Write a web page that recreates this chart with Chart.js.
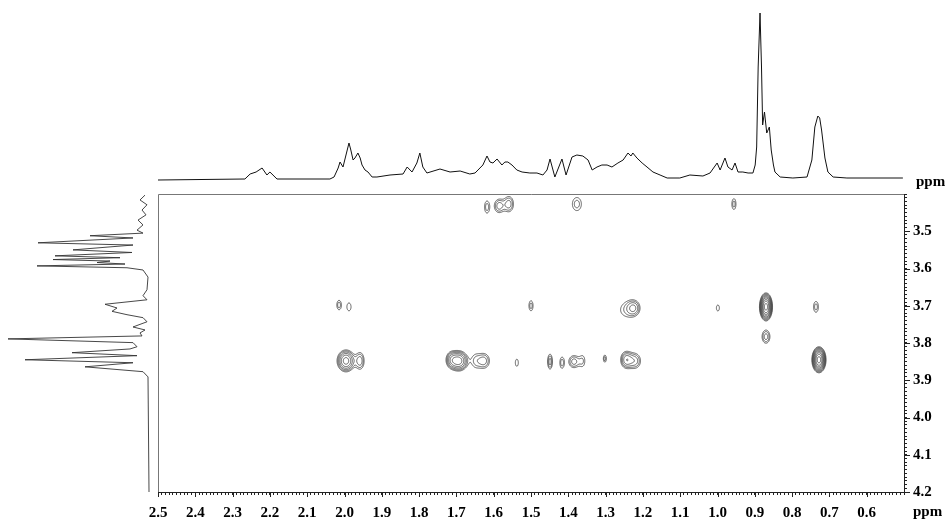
<!DOCTYPE html>
<html>
<head>
<meta charset="utf-8">
<script src="https://cdn.jsdelivr.net/npm/chart.js@4.4.0/dist/chart.umd.min.js"></script>
<style>
  html, body { margin: 0; padding: 0; background: #fff; }
  #wrap { position: relative; width: 946px; height: 521px; overflow: hidden; }
  #wrap canvas { position: absolute; }
</style>
</head>
<body>
<div id="wrap">
  <canvas id="topSpec" width="746" height="200" style="left:158px;top:0"></canvas>
  <canvas id="leftSpec" width="158" height="298" style="left:0;top:194px"></canvas>
  <canvas id="main" width="946" height="521" style="left:0;top:0"></canvas>
</div>
<script>
// axis ranges (ppm) and labelled ticks
const xRange = [0.5, 2.5];
const yRange = [3.4, 4.2];
const xMajorTicks = [2.5, 2.4, 2.3, 2.2, 2.1, 2.0, 1.9, 1.8, 1.7, 1.6, 1.5, 1.4, 1.3, 1.2, 1.1, 1.0, 0.9, 0.8, 0.7, 0.6];
const yMajorTicks = [3.5, 3.6, 3.7, 3.8, 3.9, 4.0, 4.1, 4.2];
const minorStep = 0.01;

// top 1D trace (F2)
const topPpm = [2.500, 2.267, 2.253, 2.237, 2.221, 2.208, 2.200, 2.181, 2.039, 2.028, 2.017, 2.012, 2.004, 1.996, 1.988,
  1.983, 1.977, 1.972, 1.964, 1.958, 1.953, 1.945, 1.937, 1.926, 1.913, 1.878, 1.843, 1.832, 1.819, 1.806, 1.798, 1.790,
  1.779, 1.744, 1.717, 1.690, 1.664, 1.650, 1.629, 1.618, 1.610, 1.602, 1.591, 1.578, 1.570, 1.562, 1.551, 1.538, 1.524,
  1.503, 1.484, 1.468, 1.457, 1.449, 1.436, 1.417, 1.406, 1.390, 1.377, 1.361, 1.347, 1.336, 1.323, 1.310, 1.296, 1.283,
  1.267, 1.253, 1.240, 1.232, 1.227, 1.216, 1.202, 1.189, 1.173, 1.154, 1.135, 1.101, 1.074, 1.039, 1.020, 1.001, 0.993,
  0.980, 0.972, 0.961, 0.953, 0.945, 0.932, 0.918, 0.905, 0.899, 0.895, 0.891, 0.886, 0.882, 0.879, 0.874, 0.868, 0.861,
  0.856, 0.850, 0.846, 0.832, 0.798, 0.760, 0.747, 0.739, 0.731, 0.726, 0.721, 0.712, 0.704, 0.690, 0.653, 0.503];
const topInt = [0, 1, 6, 8, 12, 5, 8, 1, 1, 3, 12, 18, 13, 25, 37,
  30, 20, 22, 27, 22, 15, 10, 8, 3, 3, 5, 6, 13, 8, 17, 27, 13,
  7, 11, 8, 9, 6, 7, 15, 24, 18, 17, 21, 15, 18, 18, 15, 10, 8,
  7, 7, 5, 10, 21, 3, 21, 5, 23, 25, 24, 20, 10, 13, 15, 15, 13,
  17, 20, 27, 24, 27, 22, 17, 13, 8, 5, 2, 2, 5, 4, 7, 17, 10,
  22, 13, 10, 17, 8, 8, 7, 7, 15, 33, 113, 167, 113, 55, 68, 47, 53,
  30, 15, 8, 3, 2, 3, 20, 53, 64, 62, 50, 22, 8, 3, 2, 2];

// left 1D trace (F1)
const leftPpm = [3.403, 3.416, 3.429, 3.443, 3.456, 3.470, 3.483, 3.497, 3.505, 3.512, 3.518, 3.531, 3.537, 3.550, 3.557,
  3.566, 3.571, 3.576, 3.580, 3.584, 3.588, 3.593, 3.598, 3.604, 3.623, 3.657, 3.673, 3.684, 3.696, 3.706, 3.715, 3.724,
  3.732, 3.743, 3.757, 3.765, 3.773, 3.781, 3.789, 3.799, 3.810, 3.816, 3.826, 3.834, 3.845, 3.853, 3.864, 3.877, 3.891, 4.200];
const leftInt = [3, 8, 1, 6, 2, 10, 5, 11, 5, 58, 15, 110, 15, 75, 16,
  93, 28, 95, 38, 51, 23, 111, 21, 5, 0, 1, 5, 1, 43, 31, 36, 21,
  5, 1, 15, 3, 8, 6, 140, 15, 11, 18, 76, 11, 123, 15, 63, 5, 0, -1];

// cross peaks: F2, F1 shift, outer contour widths (ppm), number of contour levels
const peakF2 = [1.618, 1.586, 1.559, 1.377, 0.956, 2.015, 1.988, 1.500, 1.224, 1.248, 0.999, 0.870, 0.736, 0.870,
  1.996, 1.958, 1.693, 1.714, 1.650, 1.626, 1.538, 1.449, 1.417, 1.385, 1.361, 1.302, 1.245, 1.221, 0.728];
const peakF1 = [3.435, 3.432, 3.427, 3.427, 3.427, 3.698, 3.703, 3.700, 3.706, 3.711, 3.706, 3.703, 3.703, 3.783,
  3.848, 3.848, 3.848, 3.845, 3.848, 3.848, 3.853, 3.850, 3.853, 3.850, 3.848, 3.842, 3.845, 3.848, 3.845];
const peakWidthF2 = [0.013, 0.024, 0.024, 0.024, 0.011, 0.011, 0.011, 0.011, 0.029, 0.021, 0.008, 0.035, 0.013, 0.021,
  0.048, 0.021, 0.048, 0.024, 0.011, 0.029, 0.008, 0.013, 0.011, 0.027, 0.008, 0.008, 0.029, 0.029, 0.038];
const peakWidthF1 = [0.032, 0.035, 0.040, 0.035, 0.029, 0.024, 0.021, 0.027, 0.035, 0.024, 0.016, 0.075, 0.029, 0.035,
  0.059, 0.043, 0.054, 0.035, 0.021, 0.038, 0.019, 0.040, 0.029, 0.032, 0.019, 0.019, 0.043, 0.038, 0.070];
const peakLevels = [2, 3, 3, 2, 2, 2, 1, 2, 3, 1, 1, 9, 2, 3,
  6, 3, 6, 3, 1, 3, 1, 3, 2, 3, 1, 2, 4, 3, 9];

const levelFactor = 1.3;
const labelFont = { family: "'Liberation Serif', 'Times New Roman', serif", size: 15, weight: 'bold' };
const axisColor = '#222';

function minorTicks(lo, hi) {
  const out = [];
  for (let k = Math.round(lo / minorStep); k <= Math.round(hi / minorStep); k++) out.push({ value: +(k * minorStep).toFixed(2) });
  return out;
}
function labelFor(v, list) {
  const m = list.find(t => Math.abs(t - v) < 1e-6);
  return m === undefined ? '' : m.toFixed(1);
}

const noChrome = { legend: { display: false }, tooltip: { enabled: false } };

// top projection
new Chart(document.getElementById('topSpec'), {
  type: 'scatter',
  data: { datasets: [{ data: topPpm.map((p, i) => ({ x: p, y: topInt[i] })), showLine: true, pointRadius: 0,
    borderColor: '#111', borderWidth: 1, tension: 0 }] },
  options: {
    responsive: false, animation: false, events: [], plugins: noChrome,
    scales: {
      x: { type: 'linear', display: false, min: xRange[0], max: xRange[1], reverse: true },
      y: { type: 'linear', display: false, min: -20, max: 180 }
    }
  }
});

// left projection
new Chart(document.getElementById('leftSpec'), {
  type: 'scatter',
  data: { datasets: [{ data: leftPpm.map((p, i) => ({ x: leftInt[i], y: p })), showLine: true, pointRadius: 0,
    borderColor: '#333', borderWidth: 0.9, tension: 0 }] },
  options: {
    responsive: false, animation: false, events: [], plugins: noChrome,
    scales: {
      x: { type: 'linear', display: false, min: -10, max: 148, reverse: true },
      y: { type: 'linear', display: false, min: yRange[0], max: yRange[1], reverse: true }
    }
  }
});

// contour lines of the cross peaks, traced over the main plot area
const contourPlugin = {
  id: 'contours',
  afterDatasetsDraw(chart) {
    const { ctx, chartArea: a, scales: { x, y } } = chart;
    const meta = chart.getDatasetMeta(0);
    const step = 0.5;
    const nx = Math.ceil((a.right - a.left) / step) + 1;
    const ny = Math.ceil((a.bottom - a.top) / step) + 1;
    const f = new Float32Array(nx * ny);
    let maxLev = 0;
    meta.data.forEach((pt, i) => {
      const amp = Math.pow(levelFactor, peakLevels[i] - 0.5);
      const spread = Math.sqrt(2 * Math.log(amp));
      const sx = Math.abs(x.getPixelForValue(peakF2[i] + peakWidthF2[i] / 2) - pt.x) / spread;
      const sy = Math.abs(y.getPixelForValue(peakF1[i] + peakWidthF1[i] / 2) - pt.y) / spread;
      maxLev = Math.max(maxLev, peakLevels[i]);
      const i0 = Math.max(0, Math.floor((pt.x - 4 * sx - a.left) / step));
      const i1 = Math.min(nx - 1, Math.ceil((pt.x + 4 * sx - a.left) / step));
      const j0 = Math.max(0, Math.floor((pt.y - 4 * sy - a.top) / step));
      const j1 = Math.min(ny - 1, Math.ceil((pt.y + 4 * sy - a.top) / step));
      for (let j = j0; j <= j1; j++) {
        const dy = (a.top + j * step - pt.y) / sy;
        for (let k = i0; k <= i1; k++) {
          const dx = (a.left + k * step - pt.x) / sx;
          f[j * nx + k] += amp * Math.exp(-0.5 * (dx * dx + dy * dy));
        }
      }
    });
    ctx.save();
    ctx.beginPath();
    ctx.rect(a.left, a.top, a.right - a.left, a.bottom - a.top);
    ctx.clip();
    ctx.beginPath();
    for (let lv = 0; lv < maxLev; lv++) {
      const L = Math.pow(levelFactor, lv);
      for (let j = 0; j < ny - 1; j++) {
        for (let i = 0; i < nx - 1; i++) {
          const p = f[j * nx + i], q = f[j * nx + i + 1], r = f[(j + 1) * nx + i + 1], s = f[(j + 1) * nx + i];
          const bp = p >= L, bq = q >= L, br = r >= L, bs = s >= L;
          if (bp === bq && bq === br && br === bs) continue;
          const X = a.left + i * step, Y = a.top + j * step;
          const pts = [];
          if (bp !== bq) pts.push(X + step * (L - p) / (q - p), Y);
          if (bq !== br) pts.push(X + step, Y + step * (L - q) / (r - q));
          if (bs !== br) pts.push(X + step * (L - s) / (r - s), Y + step);
          if (bp !== bs) pts.push(X, Y + step * (L - p) / (s - p));
          ctx.moveTo(pts[0], pts[1]); ctx.lineTo(pts[2], pts[3]);
          if (pts.length === 8) { ctx.moveTo(pts[4], pts[5]); ctx.lineTo(pts[6], pts[7]); }
        }
      }
    }
    ctx.strokeStyle = '#333';
    ctx.lineWidth = 0.75;
    ctx.stroke();
    ctx.restore();
  }
};

// frame, longer ticks at labelled values, ppm captions
const framePlugin = {
  id: 'frame',
  afterDraw(chart) {
    const { ctx, chartArea: a, scales: { x, y } } = chart;
    ctx.save();
    ctx.strokeStyle = '#777';
    ctx.lineWidth = 1;
    ctx.beginPath();
    ctx.moveTo(a.left + 0.5, a.bottom);
    ctx.lineTo(a.left + 0.5, a.top + 0.5);
    ctx.lineTo(a.right, a.top + 0.5);
    ctx.stroke();
    ctx.strokeStyle = axisColor;
    ctx.beginPath();
    xMajorTicks.forEach(v => {
      const px = Math.round(x.getPixelForValue(v)) + 0.5;
      ctx.moveTo(px, a.bottom); ctx.lineTo(px, a.bottom + 5);
    });
    yMajorTicks.forEach(v => {
      const py = Math.round(y.getPixelForValue(v)) + 0.5;
      ctx.moveTo(a.right, py); ctx.lineTo(a.right + 6, py);
    });
    ctx.stroke();
    ctx.fillStyle = '#000';
    ctx.font = "bold 15px 'Liberation Serif', 'Times New Roman', serif";
    ctx.textBaseline = 'alphabetic';
    ctx.textAlign = 'left';
    ctx.fillText('ppm', 913, 516);
    ctx.fillText('ppm', 916, 186);
    ctx.restore();
  }
};

new Chart(document.getElementById('main'), {
  type: 'scatter',
  data: { datasets: [{ data: peakF2.map((p, i) => ({ x: p, y: peakF1[i] })), pointRadius: 0 }] },
  options: {
    responsive: false, animation: false, events: [], plugins: noChrome,
    layout: { padding: { left: 158, top: 194, right: 0, bottom: 0 } },
    scales: {
      x: {
        type: 'linear', position: 'bottom', min: xRange[0], max: xRange[1], reverse: true,
        afterFit(s) { s.height = 29; },
        afterBuildTicks(s) { s.ticks = minorTicks(xRange[0], xRange[1]); },
        ticks: { autoSkip: false, maxRotation: 0, minRotation: 0, padding: 9, color: '#000', font: labelFont,
          callback: v => labelFor(v, xMajorTicks) },
        grid: { drawOnChartArea: false, tickLength: 3, color: axisColor, lineWidth: 1 },
        border: { color: axisColor, width: 1 }
      },
      y: {
        type: 'linear', position: 'right', min: yRange[0], max: yRange[1], reverse: true,
        afterFit(s) { s.width = 42; },
        afterBuildTicks(s) { s.ticks = minorTicks(yRange[0], yRange[1]); },
        ticks: { autoSkip: false, padding: 6, color: '#000', font: labelFont,
          callback: v => labelFor(v, yMajorTicks) },
        grid: { drawOnChartArea: false, tickLength: 3, color: axisColor, lineWidth: 1 },
        border: { color: axisColor, width: 1 }
      }
    }
  },
  plugins: [contourPlugin, framePlugin]
});
</script>
</body>
</html>
